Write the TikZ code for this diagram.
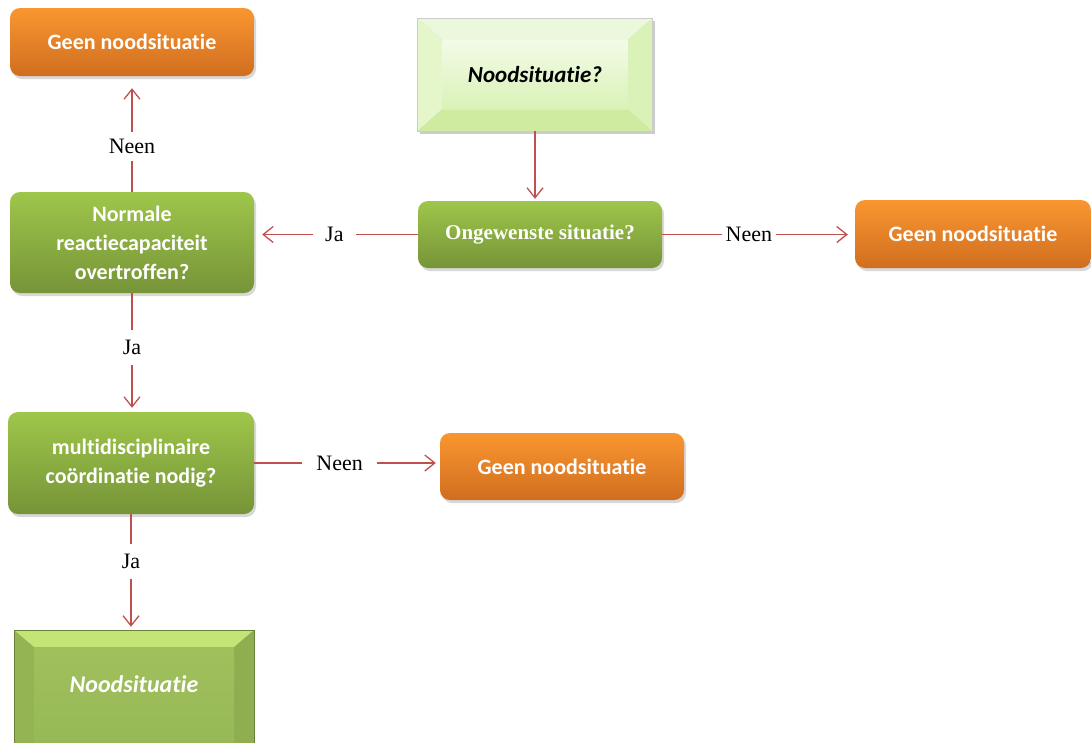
\documentclass[tikz,border=0pt]{standalone}
\usepackage{fontspec}
\setmainfont{Liberation Serif}
\newfontfamily\calibri[Ligatures={NoCommon}]{Carlito}
\usetikzlibrary{arrows.meta,shadows,calc}

\definecolor{arr}{RGB}{192,80,77}
\definecolor{orTop}{RGB}{250,150,48}
\definecolor{orBot}{RGB}{208,110,32}
\definecolor{grTop}{RGB}{158,198,74}
\definecolor{grBot}{RGB}{118,148,56}
\definecolor{lgT}{RGB}{236,248,220}
\definecolor{lgL}{RGB}{228,246,202}
\definecolor{lgB}{RGB}{206,235,160}
\definecolor{lgR}{RGB}{218,241,184}
\definecolor{lgCT}{RGB}{242,251,232}
\definecolor{lgCB}{RGB}{218,242,182}
\definecolor{mgT}{RGB}{196,228,118}
\definecolor{mgL}{RGB}{148,180,84}
\definecolor{mgB}{RGB}{130,160,70}
\definecolor{mgR}{RGB}{142,174,80}
\definecolor{mgCT}{RGB}{160,192,92}
\definecolor{mgCB}{RGB}{150,184,86}

\newcommand\mybevel[8]{%
  \coordinate (pnw) at (path picture bounding box.north west);
  \coordinate (pne) at (path picture bounding box.north east);
  \coordinate (psw) at (path picture bounding box.south west);
  \coordinate (pse) at (path picture bounding box.south east);
  \coordinate (inw) at ([shift={(#1,-#2)}]path picture bounding box.north west);
  \coordinate (ine) at ([shift={(-#1,-#2)}]path picture bounding box.north east);
  \coordinate (isw) at ([shift={(#1,#2)}]path picture bounding box.south west);
  \coordinate (ise) at ([shift={(-#1,#2)}]path picture bounding box.south east);
  \fill[#3] (pnw) -- (pne) -- (ine) -- (inw) -- cycle;
  \fill[#4] (pnw) -- (inw) -- (isw) -- (psw) -- cycle;
  \fill[#5] (psw) -- (isw) -- (ise) -- (pse) -- cycle;
  \fill[#6] (pne) -- (pse) -- (ise) -- (ine) -- cycle;
  \shade[top color=#7, bottom color=#8] (inw) rectangle (ise);
}

\begin{document}
\begin{tikzpicture}[x=1pt,y=-1pt,
  box/.style={rounded corners=10pt, minimum width=244pt, minimum height=68pt,
    inner sep=0pt, align=center, text=white,
    font=\calibri\bfseries\fontsize{22}{29}\selectfont,
    drop shadow={shadow xshift=2pt, shadow yshift=-3pt, opacity=0.3}},
  obox/.style={box, top color=orTop, bottom color=orBot},
  gbox/.style={box, top color=grTop, bottom color=grBot},
  conn/.style={draw=arr, line width=1.3pt, -{Straight Barb[length=10pt,width=16pt]}},
  lab/.style={fill=white, text=black, font=\fontsize{22}{26}\selectfont,
    inner xsep=4pt, inner ysep=6pt}
]
\clip (0,0) rectangle (1091,742);
\fill[white] (0,0) rectangle (1091,742);

% nodes
\node[obox] (g1) at (132,42) {Geen noodsituatie};
\node[inner sep=0pt, minimum width=235pt, minimum height=113pt, draw=black!20,
  drop shadow={shadow xshift=2pt, shadow yshift=-3pt, opacity=0.2, fill=black},
  path picture={\mybevel{25pt}{22pt}{lgT}{lgL}{lgB}{lgR}{lgCT}{lgCB}},
  font=\calibri\bfseries\itshape\fontsize{23}{26}\selectfont] (q) at (535,74.5) {Noodsituatie?};
\node[gbox, minimum height=67pt, font=\bfseries\fontsize{21}{25}\selectfont] (ong) at (540,234.5) {Ongewenste situatie?};
\node[obox, minimum width=236pt] (g2) at (973,234) {Geen noodsituatie};
\node[gbox, minimum height=101pt] (norm) at (132,242.5) {Normale\\reactiecapaciteit\\overtroffen?};
\node[gbox, minimum width=246pt, minimum height=102pt] (multi) at (131,463) {multidisciplinaire\\coördinatie nodig?};
\node[obox, minimum height=67pt] (g3) at (562,466.5) {Geen noodsituatie};
\node[inner sep=0pt, minimum width=240pt, minimum height=134pt, draw=mgB!80!black, line width=0.6pt,
  path picture={\mybevel{20pt}{17pt}{mgT}{mgL}{mgB}{mgR}{mgCT}{mgCB}},
  label={[yshift=13pt, text=white, font=\calibri\bfseries\itshape\fontsize{24}{26}\selectfont]center:Noodsituatie}] (nood) at (134,697) {};

% connectors
\draw[conn, shorten >=2pt] (q.south) -- (q.south |- ong.north);
\draw[conn, shorten >=8pt] (ong.west) -- node[lab, inner xsep=12pt, pos=0.51] {Ja} (ong.west -| norm.east);
\draw[conn, shorten >=7pt] (ong.east) -- node[lab, pos=0.45] {Neen} (ong.east -| g2.west);
\draw[conn, shorten >=12pt] (norm.north) -- node[lab, inner ysep=7pt, pos=0.39] {Neen} (norm.north |- g1.south);
\draw[conn, shorten >=4pt] (norm.south) -- node[lab, inner ysep=10pt, pos=0.46] {Ja} (norm.south |- multi.north);
\draw[conn, shorten >=4pt] (multi.east) -- node[lab, inner xsep=14pt, pos=0.46] {Neen} (multi.east -| g3.west);
\draw[conn, shorten >=3pt] (multi.south) -- node[lab, inner ysep=10pt, pos=0.41] {Ja} (multi.south |- nood.north);
\end{tikzpicture}
\end{document}
